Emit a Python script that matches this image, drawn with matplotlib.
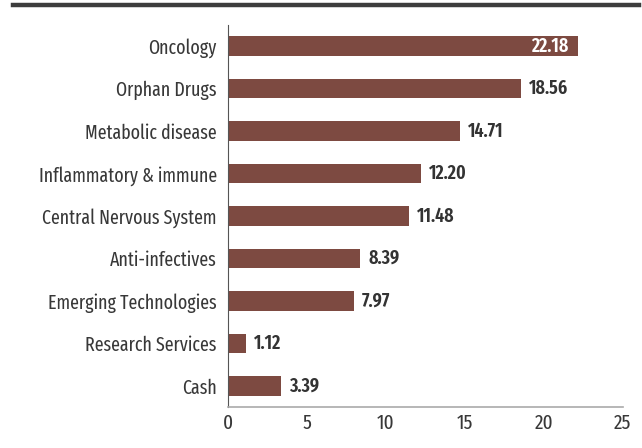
import matplotlib.pyplot as plt
from matplotlib.lines import Line2D

categories = ['Oncology', 'Orphan Drugs', 'Metabolic disease', 'Inflammatory & immune',
              'Central Nervous System', 'Anti-infectives', 'Emerging Technologies',
              'Research Services', 'Cash']
values = [22.18, 18.56, 14.71, 12.20, 11.48, 8.39, 7.97, 1.12, 3.39]
xticks = [0, 5, 10, 15, 20, 25]

# condensed face first, fall back to plain sans if it is not there
plt.rcParams['font.family'] = ['Fira Sans Extra Condensed', 'Roboto Condensed', 'DejaVu Sans']

fig = plt.figure(figsize=(6.42, 4.48), dpi=100)
ax = fig.add_axes([0.355, 0.0915, 0.615, 0.853])

bar_color = '#7d4a41'
y = list(range(len(categories)))
ax.barh(y, values, height=0.46, color=bar_color)

for yi, v in zip(y, values):
    if v > 20:
        ax.text(v - 0.6, yi, f'{v:.2f}', ha='right', va='center', color='white',
                fontsize=14, fontweight='semibold')
    else:
        ax.text(v + 0.5, yi, f'{v:.2f}', ha='left', va='center', color='#333333',
                fontsize=14, fontweight='semibold')

ax.set_ylim(len(categories) - 0.5, -0.5)
ax.set_xlim(0, 25)
ax.set_yticks(y)
ax.set_yticklabels(categories, fontsize=14, color='#383838')
ax.set_xticks(xticks)
ax.set_xticklabels([str(t) for t in xticks], fontsize=15, color='#383838')
ax.tick_params(axis='y', length=0, pad=8)
ax.tick_params(axis='x', length=0, pad=5)

for s in ['top', 'right']:
    ax.spines[s].set_visible(False)
ax.spines['left'].set_color('#555555')
ax.spines['left'].set_linewidth(0.8)
ax.spines['bottom'].set_color('#aaaaaa')
ax.spines['bottom'].set_linewidth(1.2)

fig.add_artist(Line2D([0.02, 0.995], [0.989, 0.989], color='#3d3d3d', linewidth=3.2,
                      transform=fig.transFigure))

fig.savefig('out.png', dpi=100)
